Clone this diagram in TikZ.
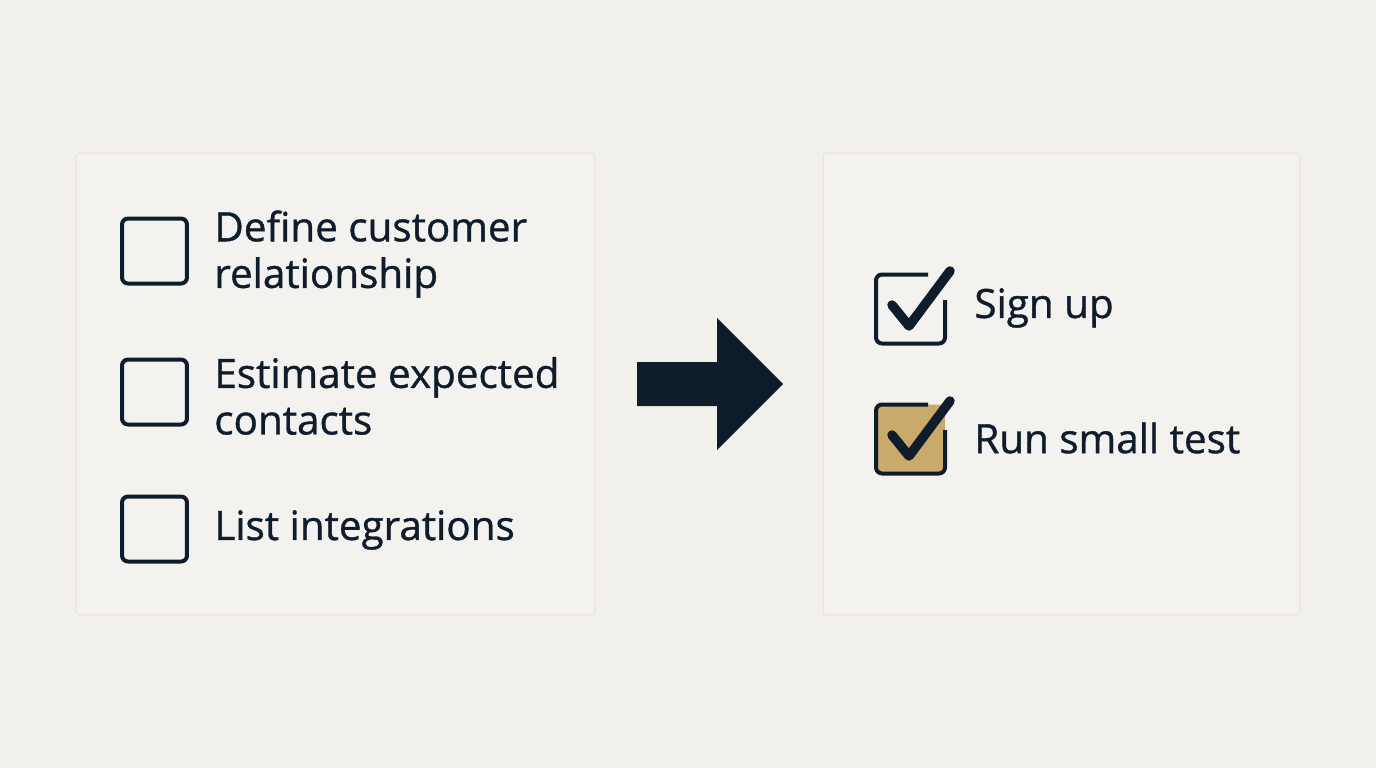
\documentclass[tikz,border=0pt]{standalone}
\usepackage{fontspec}
\setmainfont{Open Sans}[FakeBold=0.9]
\usepackage{tikz}
\usetikzlibrary{positioning,calc}
\definecolor{bgc}{HTML}{F2F0EB}
\definecolor{panelc}{HTML}{F4F2EE}
\definecolor{panelline}{HTML}{E6E2D5}
\definecolor{ink}{HTML}{0F1C2C}
\definecolor{tanfill}{HTML}{C9AA6B}

\begin{document}
\begin{tikzpicture}[
  x=0.02cm, y=-0.02cm,
  panel/.style   = {rectangle, rounded corners=0.08cm, draw=panelline,
                    fill=panelc, line width=0.6pt, inner sep=0},
  cbox/.style    = {rectangle, rounded corners=0.12cm, draw=ink,
                    line width=0.08cm, minimum size=1.3cm, inner sep=0},
  boxline/.style = {draw=ink, line width=0.08cm, rounded corners=0.12cm},
  item/.style    = {anchor=west, align=left, inner sep=0, text=ink,
                    font=\fontsize{23}{26.5}\selectfont},
  tick/.style    = {draw=ink, line width=0.19cm, line cap=round, line join=round},
]
\fill[bgc] (0,0) rectangle (1376,768);
\useasboundingbox (0,0) rectangle (1376,768);
% panels
\node[panel, minimum width=10.38cm, minimum height=9.24cm] (todo) at (335.5,384) {};
\node[panel, minimum width=9.54cm,  minimum height=9.24cm] (done) at (1061.5,384) {};
% open items
\node[cbox] (c1) at (154.5,251) {};
\node[cbox] (c2) at (154.5,392) {};
\node[cbox] (c3) at (154.5,529) {};
\node[item] (t1) at (214,254) {Define customer\\relationship};
\node[item] (t2) at (214,396) {Estimate expected\\contacts};
\node[item] (t3) at (214,530) {List integrations};
% big arrow
\fill[ink] (637,362) -- (717,362) -- (717,318) -- (783,384)
           -- (717,450) -- (717,406) -- (637,406) -- cycle;
% checked items
\node[cbox, draw=none] (d1) at (910.5,309) {};
\node[cbox, draw=none] (d2) at (910.5,439) {};
\fill[tanfill, rounded corners=0.12cm] (d2.north west) rectangle (d2.south east);
\draw[boxline] ($(d1.north)+(17.5,0)$) -- (d1.north west) -- (d1.south west)
               -- (d1.south east) -- ($(d1.east)+(0,-9)$);
\draw[boxline] ($(d2.north)+(17.5,0)$) -- (d2.north west) -- (d2.south west)
               -- (d2.south east) -- ($(d2.east)+(0,-9)$);
\draw[tick] ($(d1)+(-18.5,-4)$) -- ($(d1)+(-1.5,17)$) -- ($(d1)+(39.5,-38)$);
\draw[tick] ($(d2)+(-18.5,-4)$) -- ($(d2)+(-1.5,17)$) -- ($(d2)+(39.5,-38)$);
\node[item] (s1) at (974,308) {Sign up};
\node[item] (s2) at (974,438) {Run small test};
\end{tikzpicture}
\end{document}
